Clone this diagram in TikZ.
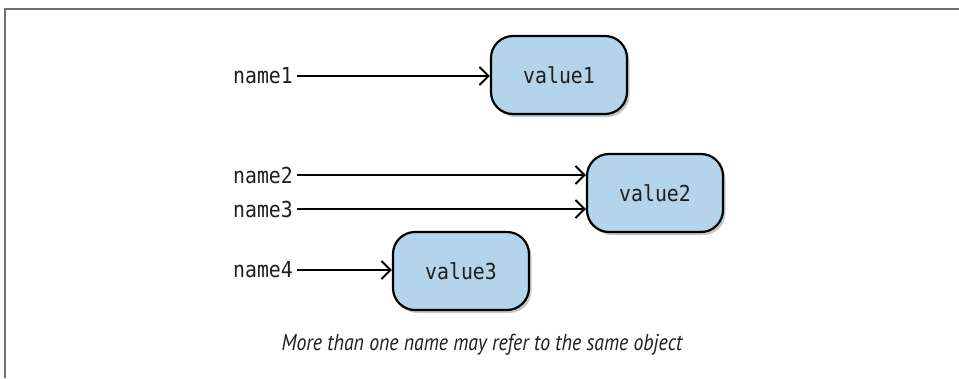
\documentclass[tikz,border=0pt]{standalone}
\usepackage{fontspec}
\setmainfont{PT Sans}
\newfontfamily\monof[FakeStretch=0.9]{DejaVu Sans Mono}
\newfontfamily\capf[FakeStretch=0.86]{PT Sans}
\usetikzlibrary{arrows.meta,shadows,positioning}
\definecolor{boxblue}{HTML}{B3D4EA}
\definecolor{frame}{HTML}{707070}
\definecolor{txt}{HTML}{1E1E1E}
\tikzset{
  valbox/.style={draw=black, line width=2.2pt, fill=boxblue, rounded corners=22pt,
    minimum width=136pt, minimum height=78pt, text=txt,
    font=\monof\fontsize{22}{24}\selectfont,
    drop shadow={shadow xshift=2.5pt, shadow yshift=-3pt, opacity=0.22, fill=black}},
  namelab/.style={anchor=east, inner xsep=4pt, inner ysep=0pt, text=txt,
    font=\monof\fontsize{22}{24}\selectfont},
  arr/.style={draw=black, line width=2pt,
    -{Straight Barb[length=9pt,width=18pt,line width=2pt]}},
}
\begin{document}
\begin{tikzpicture}[x=1pt,y=-1pt]
\useasboundingbox (0,0) rectangle (959,378);
\fill[white] (0,0) rectangle (959,378);
\draw[frame, line width=2pt] (5,378) -- (5,9) -- (959,9);
\node[valbox] (v1) at (559,75) {value1};
\node[valbox] (v2) at (655,193) {value2};
\node[valbox] (v3) at (461,271) {value3};
\node[namelab] (n1) at (297,76) {name1};
\node[namelab] (n2) at (297,175) {name2};
\node[namelab] (n3) at (297,209) {name3};
\node[namelab] (n4) at (297,270) {name4};
\draw[arr] (n1.east) -- (n1.east -| v1.west);
\draw[arr] (n2.east) -- (n2.east -| v2.west);
\draw[arr] (n3.east) -- (n3.east -| v2.west);
\draw[arr] (n4.east) -- (n4.east -| v3.west);
\node[text=txt, font=\capf\itshape\fontsize{23}{26}\selectfont] (cap) at (482,345) {More than one name may refer to the same object};
\end{tikzpicture}
\end{document}
